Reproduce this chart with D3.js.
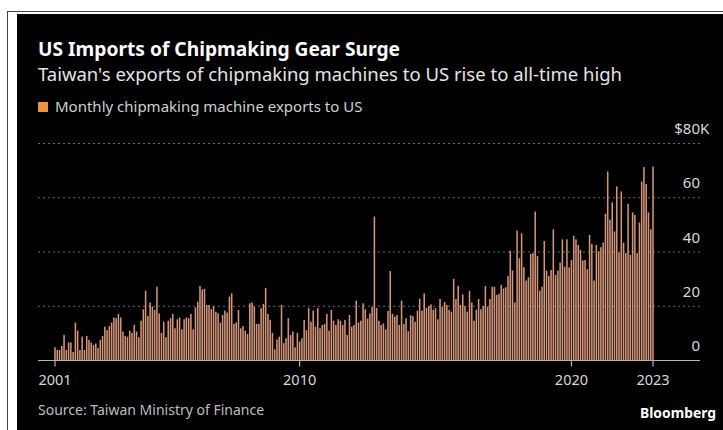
<!DOCTYPE html>
<html>
<head>
<meta charset="utf-8">
<script src="https://cdn.jsdelivr.net/npm/d3@7"></script>
<style>
html,body{margin:0;padding:0;background:#fff;}
svg{display:block;}
</style>
</head>
<body>
<svg id="chart" width="723" height="430"></svg>
<script>
// ---- Data (thousand US$, monthly, Jan 2001 – Jan 2023) ----
const y2001 = [4.7, 3.7, 3.7, 5.2, 9.2, 3.7, 6.5, 6.5, 3.0, 13.8, 10.8, 3.7];
const y2002 = [8.6, 3.7, 8.9, 7.4, 6.4, 5.5, 6.1, 4.5, 7.4, 8.9, 12.3, 11.0];
const y2003 = [12.5, 13.8, 15.7, 15.4, 17.0, 15.7, 10.5, 8.9, 8.6, 10.8, 10.0, 12.9];
const y2004 = [10.5, 8.4, 14.5, 18.7, 25.5, 16.2, 21.2, 19.7, 18.5, 27.0, 17.2, 10.0];
const y2005 = [14.1, 8.4, 14.5, 15.4, 17.0, 11.7, 15.0, 15.7, 11.3, 15.0, 15.7, 15.4];
const y2006 = [17.0, 11.3, 19.4, 21.5, 27.3, 26.0, 26.3, 20.3, 20.3, 18.7, 19.9, 17.8];
const y2007 = [17.2, 13.8, 16.6, 18.2, 17.5, 23.4, 24.6, 13.3, 13.8, 18.5, 11.7, 12.5];
const y2008 = [10.8, 9.6, 20.9, 21.2, 19.7, 13.3, 13.3, 19.1, 20.7, 26.6, 17.0, 14.8];
const y2009 = [10.0, 3.9, 7.6, 8.6, 20.3, 6.2, 8.0, 15.4, 9.2, 10.5, 4.7, 10.0];
const y2010 = [6.8, 8.0, 14.8, 11.0, 19.1, 14.1, 18.2, 12.3, 19.1, 11.7, 12.9, 13.3];
const y2011 = [17.0, 10.8, 18.5, 14.5, 12.9, 15.0, 14.5, 12.9, 14.8, 9.2, 16.6, 12.3];
const y2012 = [12.9, 21.9, 13.8, 14.5, 20.9, 18.7, 15.3, 17.2, 19.7, 52.9, 19.1, 14.5];
const y2013 = [12.9, 13.5, 11.3, 18.1, 32.8, 17.0, 16.0, 16.6, 12.9, 21.9, 13.3, 15.4];
const y2014 = [10.6, 16.5, 16.2, 14.1, 18.2, 22.6, 18.2, 24.6, 19.2, 19.9, 20.5, 18.5];
const y2015 = [19.1, 15.0, 22.5, 19.7, 21.4, 20.3, 18.5, 17.8, 29.9, 22.5, 27.4, 20.3];
const y2016 = [24.2, 19.9, 17.8, 25.5, 21.2, 14.5, 18.5, 22.5, 18.7, 19.9, 27.3, 19.7];
const y2017 = [22.5, 27.0, 27.0, 24.0, 24.4, 27.7, 26.4, 26.8, 31.0, 40.3, 33.0, 21.2];
const y2018 = [47.7, 37.5, 46.7, 34.2, 29.3, 30.5, 39.1, 39.4, 54.7, 38.4, 25.6, 27.0];
const y2019 = [43.9, 33.0, 31.0, 33.2, 48.2, 31.4, 33.0, 35.9, 44.5, 34.4, 44.5, 34.2];
const y2020 = [36.9, 45.8, 44.5, 42.4, 40.6, 36.7, 36.9, 33.5, 46.1, 42.8, 29.3, 42.4];
const y2021 = [40.0, 41.6, 43.3, 53.9, 69.5, 51.7, 58.1, 47.4, 64.0, 39.6, 62.1, 43.3];
const y2022 = [39.4, 57.6, 38.7, 54.4, 53.5, 39.4, 50.7, 65.8, 71.1, 64.9, 54.4, 48.2];
const y2023 = [71.3];

const yTickValues = [0, 20, 40, 60, 80];
const xTickYears = [2001, 2010, 2020, 2023];

const titleText = "US Imports of Chipmaking Gear Surge";
const subtitleText = "Taiwan's exports of chipmaking machines to US rise to all-time high";
const legendText = "Monthly chipmaking machine exports to US";
const sourceText = "Source: Taiwan Ministry of Finance";

// ---- Build table ----
const values = [].concat(y2001, y2002, y2003, y2004, y2005, y2006, y2007, y2008,
  y2009, y2010, y2011, y2012, y2013, y2014, y2015, y2016, y2017, y2018, y2019,
  y2020, y2021, y2022, y2023);
const startDate = new Date(2001, 0, 1);
const data = values.map((v, i) => ({ date: d3.timeMonth.offset(startDate, i), value: v }));

// ---- Layout ----
const W = 723, H = 430;
const FONT = "'Noto Sans', 'Open Sans', sans-serif";
const svg = d3.select("#chart");

svg.append("rect").attr("x", 0).attr("y", 0).attr("width", W).attr("height", H).attr("fill", "#fff");
svg.append("rect").attr("x", 7.5).attr("y", 11.5).attr("width", W).attr("height", H)
  .attr("fill", "#fff").attr("stroke", "#444").attr("stroke-width", 1);
svg.append("rect").attr("x", 17).attr("y", 14).attr("width", W).attr("height", H).attr("fill", "#000");

const firstCenter = 55, lastCenter = 653;
const step = (lastCenter - firstCenter) / (data.length - 1);
const x = d3.scaleBand()
  .domain(data.map(d => +d.date))
  .range([firstCenter - step / 2, lastCenter + step / 2])
  .paddingInner(0.32)
  .paddingOuter(0.16);

const y = d3.scaleLinear().domain([0, 80]).range([360, 143]);

const gridL = 38, gridR = 700;

// gridlines
svg.append("g").selectAll("line")
  .data(yTickValues.filter(v => v > 0))
  .join("line")
  .attr("x1", gridL).attr("x2", gridR)
  .attr("y1", d => y(d) + 0.5).attr("y2", d => y(d) + 0.5)
  .attr("stroke", "#6b6b6b").attr("stroke-width", 1)
  .attr("stroke-dasharray", "2,3");

// bars
svg.append("g").selectAll("rect")
  .data(data)
  .join("rect")
  .attr("x", d => x(+d.date))
  .attr("width", x.bandwidth())
  .attr("y", d => y(d.value))
  .attr("height", d => y(0) - y(d.value))
  .attr("fill", "#d3957a");

// baseline
svg.append("line")
  .attr("x1", gridL).attr("x2", gridR)
  .attr("y1", y(0) + 0.5).attr("y2", y(0) + 0.5)
  .attr("stroke", "#b5b5b5").attr("stroke-width", 1.2);

// x axis
const xTickVals = xTickYears.map(yr => +new Date(yr, 0, 1));
const xAxis = d3.axisBottom(x)
  .tickValues(xTickVals)
  .tickSize(6)
  .tickPadding(8)
  .tickFormat(d => new Date(d).getFullYear());
const gx = svg.append("g").attr("transform", `translate(0,${y(0) + 0.5})`).call(xAxis);
gx.select(".domain").remove();
gx.selectAll(".tick line").attr("stroke", "#b5b5b5").attr("stroke-width", 1.2);
gx.selectAll(".tick text").attr("fill", "#d8d8d8").attr("font-family", FONT)
  .attr("font-size", 14.5).attr("dy", "0.71em");

// y axis labels
const yLab = svg.append("g");
yTickValues.forEach(v => {
  const t = yLab.append("text")
    .attr("x", gridR).attr("y", y(v) - 9)
    .attr("text-anchor", "end")
    .attr("font-family", FONT).attr("font-size", 15).attr("fill", "#d8d8d8")
    .text(v);
  if (v === 80) {
    const w = t.node().getComputedTextLength();
    yLab.append("text").attr("x", gridR - w).attr("y", y(v) - 9)
      .attr("text-anchor", "end").attr("font-family", FONT).attr("font-size", 15)
      .attr("fill", "#d8d8d8").text("$");
    yLab.append("text").attr("x", gridR).attr("y", y(v) - 9)
      .attr("text-anchor", "start").attr("font-family", FONT).attr("font-size", 15)
      .attr("fill", "#d8d8d8").text("K");
  }
});

// titles
function fitText(sel, target) {
  const w = sel.node().getComputedTextLength();
  if (w > target) sel.attr("textLength", target).attr("lengthAdjust", "spacingAndGlyphs");
}
const t1 = svg.append("text").attr("x", 38).attr("y", 56)
  .attr("font-family", FONT).attr("font-weight", 700).attr("font-size", 20)
  .attr("fill", "#fff").text(titleText);
fitText(t1, 362);
const t2 = svg.append("text").attr("x", 38).attr("y", 80.5)
  .attr("font-family", FONT).attr("font-size", 18.5)
  .attr("fill", "#e4e4e4").text(subtitleText);
fitText(t2, 584);

// legend
svg.append("rect").attr("x", 38).attr("y", 102).attr("width", 10).attr("height", 10)
  .attr("fill", "#f0923a");
const t3 = svg.append("text").attr("x", 55).attr("y", 112)
  .attr("font-family", FONT).attr("font-size", 15)
  .attr("fill", "#d0d0d0").text(legendText);
fitText(t3, 311);

// footer
const t4 = svg.append("text").attr("x", 38).attr("y", 415)
  .attr("font-family", FONT).attr("font-size", 14)
  .attr("fill", "#bdbdbd").text(sourceText);
fitText(t4, 230);
const t5 = svg.append("text").attr("x", 716).attr("y", 418)
  .attr("text-anchor", "end")
  .attr("font-family", FONT).attr("font-weight", 700).attr("font-size", 15)
  .attr("fill", "#fff").text("Bloomberg");
fitText(t5, 76);
</script>
</body>
</html>
